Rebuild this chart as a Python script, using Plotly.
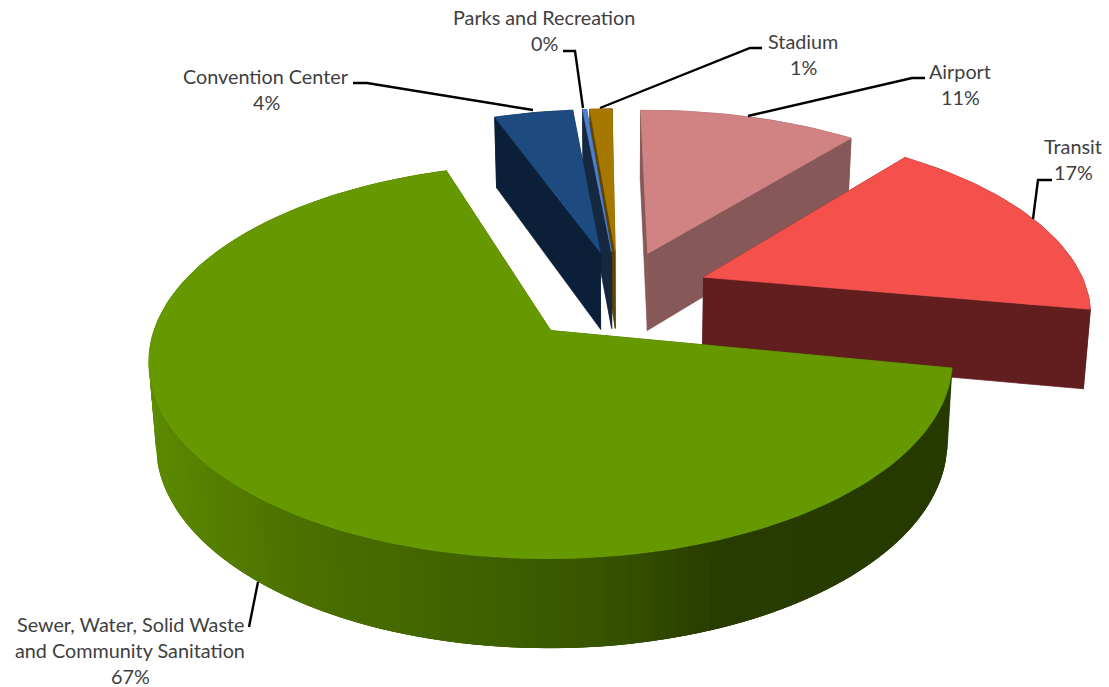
import numpy as np
import plotly.graph_objects as go

# ---- data ----
categories = ["Stadium", "Airport", "Transit",
              "Sewer, Water, Solid Waste|and Community Sanitation",
              "Convention Center", "Parks and Recreation"]
shares = [1.1, 10.8, 16.9, 67.1, 3.9, 0.2]
percent_labels = ["1%", "11%", "17%", "67%", "4%", "0%"]
top_colors = ["#a67800", "#d08382", "#f4504c", "#669900", "#1d4a7f", "#4f81d0"]
wall_colors = ["#5e4400", "#875858", "#621d1f", "#3a5a00", "#0c1f38", "#162840"]

# ---- projection of the exploded 3-D pie ----
START_DEG = 355.0
EXPLODE = 0.24
CX, CY, RX, RY = 622.0, 298.0, 383.0, 181.0
K_TOP, K_DEPTH = 0.15, 0.10
DEPTH, BOTTOM_SHRINK = 79.0, 0.985
draw_order = [0, 5, 4, 1, 2, 3]
GREEN = 3
GREEN_SPIN_DEG, GREEN_SHIFT_X, GREEN_SHIFT_Y = 2.2, -0.033, 0.01
GREEN_SHEAR, GREEN_RADIUS = -10.0, 1.009
APEX_DX, APEX_DY = -0.006, 0.028

green_stops_x = [150, 300, 500, 620, 720, 950]
green_stops_rgb = [(92, 138, 0), (76, 112, 0), (62, 96, 0), (54, 82, 0), (41, 60, 0), (38, 58, 0)]


def top_xy(X, Y, shear=0.0):
    w = 1 + K_TOP * Y
    return CX + RX * X / w + shear * Y, CY - RY * Y / w


def bottom_xy(X, Y, shear=0.0):
    x, y = top_xy(X, Y, shear)
    return CX + (x - CX) * BOTTOM_SHRINK, y + DEPTH / (1 + K_DEPTH * Y)


def polygon(fig, xs, ys, color, width=0.7):
    fig.add_trace(go.Scatter(x=list(xs), y=list(ys), mode="lines", fill="toself",
                             fillcolor=color, line=dict(color=color, width=width),
                             hoverinfo="skip", showlegend=False))


fig = go.Figure()
fractions = np.array(shares) / sum(shares)
edges = np.radians(START_DEG) + 2 * np.pi * np.concatenate([[0], np.cumsum(fractions)])

for i in draw_order:
    a0, a1 = edges[i], edges[i + 1]
    mid = (a0 + a1) / 2
    ox, oy = EXPLODE * np.sin(mid), EXPLODE * np.cos(mid)
    shear, radius = 0.0, 1.0
    if i == GREEN:
        a0 += np.radians(GREEN_SPIN_DEG)
        a1 += np.radians(GREEN_SPIN_DEG)
        ox += GREEN_SHIFT_X
        oy += GREEN_SHIFT_Y
        shear, radius = GREEN_SHEAR, GREEN_RADIUS
        px, py = ox, oy
    else:
        px, py = ox + APEX_DX, oy + APEX_DY
    n = max(4, int(np.degrees(a1 - a0) / 1.5))
    t = np.linspace(a0, a1, n + 1)
    X, Y = ox + radius * np.sin(t), oy + radius * np.cos(t)
    # radial walls
    for j in (0, -1):
        tx, ty = top_xy(np.array([px, X[j]]), np.array([py, Y[j]]), shear)
        bx, by = bottom_xy(np.array([px, X[j]]), np.array([py, Y[j]]), shear)
        polygon(fig, [tx[0], tx[1], bx[1], bx[0], tx[0]], [ty[0], ty[1], by[1], by[0], ty[0]], wall_colors[i])
    # outer wall
    tx, ty = top_xy(X, Y, shear)
    bx, by = bottom_xy(X, Y, shear)
    if i == GREEN:
        for k in range(n):
            e = min(k + 3, n)
            xm = (tx[k] + tx[k + 1]) / 2
            rgb = [int(np.interp(xm, green_stops_x, [c[m] for c in green_stops_rgb])) for m in range(3)]
            xs = list(tx[k:e + 1]) + list(bx[k:e + 1][::-1]) + [tx[k]]
            ys = list(ty[k:e + 1]) + list(by[k:e + 1][::-1]) + [ty[k]]
            polygon(fig, xs, ys, "rgb(%d,%d,%d)" % tuple(rgb), width=0)
    else:
        polygon(fig, list(tx) + list(bx[::-1]) + [tx[0]], list(ty) + list(by[::-1]) + [ty[0]], wall_colors[i])
    # top face
    ax, ay = top_xy(np.array([px]), np.array([py]), shear)
    polygon(fig, [ax[0]] + list(tx) + [ax[0]], [ay[0]] + list(ty) + [ay[0]], top_colors[i])

# ---- leader lines (annotation furniture) ----
leaders = [
    ([353, 367, 533], [83, 83, 110]),
    ([563, 575, 583], [51, 51, 108]),
    ([762, 750, 600], [48, 48, 108]),
    ([925, 912, 748], [78, 78, 116]),
    ([1052, 1038, 1033], [180, 180, 219]),
    ([258, 249], [582, 627]),
]
for lx, ly in leaders:
    fig.add_trace(go.Scatter(x=lx, y=ly, mode="lines", line=dict(color="#000000", width=2.4),
                             hoverinfo="skip", showlegend=False))

# ---- labels ----
label_pos = {0: (803, 41), 1: (960, 71), 2: (1073, 146), 3: (130, 624), 4: (266, 76), 5: (544, 17)}
LINE = 26.0
for i, (lx0, ly0) in label_pos.items():
    lines = categories[i].split("|") + [percent_labels[i]]
    for n, text in enumerate(lines):
        fig.add_annotation(x=lx0, y=ly0 + n * LINE, text=text, showarrow=False, xanchor="center", yanchor="middle",
                           font=dict(family="Lato", size=19.8, color="#404040"))

fig.update_layout(width=1109, height=687, margin=dict(l=0, r=0, t=0, b=0),
                  paper_bgcolor="white", plot_bgcolor="white", showlegend=False,
                  xaxis=dict(range=[0, 1109], visible=False),
                  yaxis=dict(range=[687, 0], visible=False))
fig.write_html("out.html", config={"displayModeBar": False},
               post_script="document.body.style.margin='0';document.body.style.overflow='hidden';")
